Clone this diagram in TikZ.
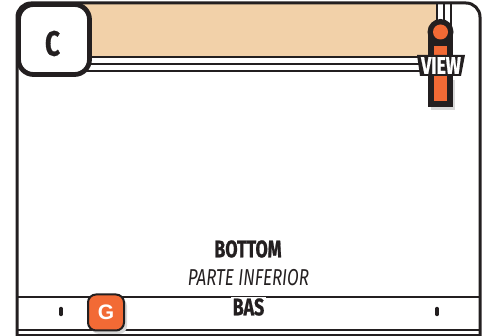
\documentclass[tikz,border=0pt]{standalone}
\usepackage{fontspec}
\usepackage{tikz}
\usetikzlibrary{positioning}
\newfontfamily\labelfont[FakeStretch=0.74, BoldFeatures={FakeBold=0.8}]{Fira Sans}
\setmainfont{Liberation Sans}
\definecolor{inkdark}{HTML}{231F20}
\definecolor{panetan}{HTML}{F2D1A9}
\definecolor{tagorange}{HTML}{F26A35}
\tikzset{
    rule/.style={draw=inkdark, line width=1.6pt},
    caption/.style={inner sep=0pt, text=inkdark, font=\labelfont\fontsize{23}{23}\selectfont},
    tick/.style={draw=inkdark, line width=3.4pt, line cap=round}
}

\begin{document}
\begin{tikzpicture}[x=1pt, y=-1pt]
    \useasboundingbox (0,0) rectangle (485,336);

    % top pane and nested rules
    \fill[panetan] (60,4) rectangle (437,56);
    \foreach \offx/\offy in {437/57, 444/64, 451/71} {
        \draw[rule] (60,\offy) -- (\offx,\offy) -- (\offx,3);
    }

    % frame
    \draw[inkdark, line width=3pt, rounded corners=14pt] (17,340) -- (17,3) -- (480,3) -- (480,340);

    % bottom rules
    \draw[rule] (17,297) -- (480,297);
    \draw[rule] (17,330) -- (480,330);
    \draw[rule] (17,335) -- (480,335);
    \coordinate (tl) at (61,308.5);
    \coordinate (bl) at (61,314.5);
    \coordinate (tr) at (437,308.5);
    \coordinate (br) at (437,314.5);
    \draw[tick] (tl) -- (bl);
    \draw[tick] (tr) -- (br);

    % corner letter
    \node[draw=inkdark, line width=4.8pt, fill=white, rounded corners=15pt, minimum width=71pt, minimum height=70pt, inner sep=0pt] (cbox) at (54,39.5) {};
    \node[caption, font=\labelfont\bfseries\fontsize{35}{35}\selectfont] (cletter) at (52.5,43.5) {C};

    % view tag
    \fill[gray!30] (431,80) rectangle (455,110);
    \fill[inkdark] (440.5,32) circle (13pt);
    \fill[inkdark] (428,32) rectangle (453,107);
    \fill[tagorange] (440.5,32) circle (7.5pt);
    \fill[tagorange] (434,46) rectangle (447,101);
    \fill[inkdark] (417,55) -- (465,55) -- (461,76) -- (420,76) -- cycle;
    \node[caption, text=white, font=\labelfont\bfseries\fontsize{24}{24}\selectfont] (view) at (441,65.5) {VIEW};

    % bottom labels
    \node[caption, font=\labelfont\bfseries\fontsize{24}{24}\selectfont] (bottom) at (248,249) {BOTTOM};
    \node[caption, font=\labelfont\itshape\fontsize{23}{23}\selectfont] (parte) at (248.5,278) {PARTE INFERIOR};
    \node[caption, fill=white, inner xsep=2pt, inner ysep=1pt, font=\labelfont\bfseries\fontsize{24}{24}\selectfont] (bas) at (248.5,307) {BAS};

    % G tag
    \fill[gray!30, rounded corners=8pt] (91,298) rectangle (127,334);
    \node[draw=inkdark, line width=2pt, fill=tagorange, rounded corners=8pt, minimum size=36pt, inner sep=0pt, text=white, font=\bfseries\fontsize{21}{21}\selectfont] (gtag) at (106,312.5) {G};
\end{tikzpicture}
\end{document}
